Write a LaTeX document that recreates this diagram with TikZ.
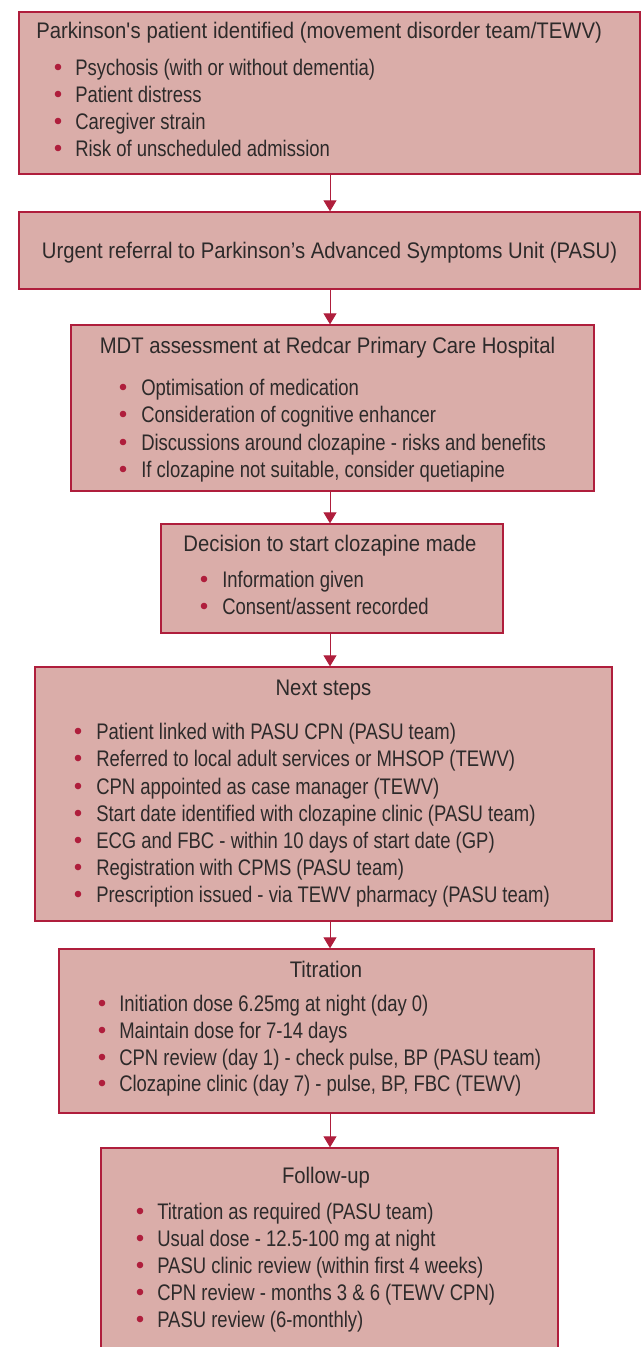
\documentclass[tikz,border=0pt]{standalone}
\usepackage{fontspec}
\usepackage{xcolor}
\usepackage{tikz}
\usetikzlibrary{arrows.meta}
\newfontfamily\headfont[FakeStretch=0.9]{Liberation Sans}
\newfontfamily\itemfont[FakeStretch=0.82]{Liberation Sans}
\definecolor{boxfill}{RGB}{218,173,169}
\definecolor{boxline}{RGB}{175,30,60}
\definecolor{txt}{RGB}{45,42,42}

\begin{document}
\begin{tikzpicture}[x=0.75pt,y=0.75pt,yscale=-1,xscale=1,
  box/.style={rectangle,draw=boxline,fill=boxfill,line width=1pt,inner sep=0pt},
  ttl/.style={anchor=base,inner sep=0pt,text=txt,font=\headfont\fontsize{16.9pt}{19pt}\selectfont},
  itm/.style={anchor=base west,inner sep=0pt,text=txt,font=\itemfont\fontsize{16.9pt}{19pt}\selectfont},
  dot/.style={fill=boxline},
  arr/.style={draw=boxline,line width=0.75pt,-{Triangle[length=8.25pt,width=9.75pt]}}]
\useasboundingbox (0,0) rectangle (642,1347);
\clip (0,0) rectangle (642,1347);
\coordinate (ax) at (330,0);

%Boxes
\node[box,minimum width=465.75pt,minimum height=121.5pt] (b1) at (329.5,93) {};
\node[box,minimum width=465.75pt,minimum height=57.75pt] (b2) at (329.5,250.5) {};
\node[box,minimum width=392.25pt,minimum height=124.5pt] (b3) at (332.5,408) {};
\node[box,minimum width=256.5pt,minimum height=81.75pt] (b4) at (332,578.5) {};
\node[box,minimum width=432.75pt,minimum height=190.5pt] (b5) at (323.5,794) {};
\node[box,minimum width=401.25pt,minimum height=123pt] (b6) at (326.5,1031) {};
\node[box,minimum width=342.75pt,minimum height=159pt] (b7) at (329.5,1254) {};

%Arrows
\draw[arr] (b1.south -| ax) -- (b2.north -| ax);
\draw[arr] (b2.south -| ax) -- (b3.north -| ax);
\draw[arr] (b3.south -| ax) -- (b4.north -| ax);
\draw[arr] (b4.south -| ax) -- (b5.north -| ax);
\draw[arr] (b5.south -| ax) -- (b6.north -| ax);
\draw[arr] (b6.south -| ax) -- (b7.north -| ax);

% Text Node
\node[ttl,anchor=base west] (t1) at (36,38) {Parkinson\textquotesingle s patient identified (movement disorder team/TEWV)};
\fill[dot] (58,67) circle (3.3); \node[itm] (t1a) at (75,75) {Psychosis (with or without dementia)};
\fill[dot] (58,94) circle (3.3); \node[itm] (t1b) at (75,102) {Patient distress};
\fill[dot] (58,121) circle (3.3); \node[itm] (t1c) at (75,129) {Caregiver strain};
\fill[dot] (58,148) circle (3.3); \node[itm] (t1d) at (75,156) {Risk of unscheduled admission};
% Text Node
\node[ttl] (t2) at (329.5,258.5) {Urgent referral to Parkinson’s Advanced Symptoms Unit (PASU)};
% Text Node
\node[ttl] (t3) at (327.5,353) {MDT assessment at Redcar Primary Care Hospital};
\fill[dot] (123,387) circle (3.3); \node[itm] (t3a) at (141,395) {Optimisation of medication};
\fill[dot] (123,414) circle (3.3); \node[itm] (t3b) at (141,422) {Consideration of cognitive enhancer};
\fill[dot] (123,442) circle (3.3); \node[itm] (t3c) at (141,450) {Discussions around clozapine - risks and benefits};
\fill[dot] (123,469) circle (3.3); \node[itm] (t3d) at (141,477) {If clozapine not suitable, consider quetiapine};
% Text Node
\node[ttl] (t4) at (330,551) {Decision to start clozapine made};
\fill[dot] (204,579) circle (3.3); \node[itm] (t4a) at (222,587) {Information given};
\fill[dot] (204,606) circle (3.3); \node[itm] (t4b) at (222,614) {Consent/assent recorded};
% Text Node
\node[ttl] (t5) at (323.5,695) {Next steps};
\fill[dot] (78,731) circle (3.3); \node[itm] (t5a) at (96,739) {Patient linked with PASU CPN (PASU team)};
\fill[dot] (78,758) circle (3.3); \node[itm] (t5b) at (96,766) {Referred to local adult services or MHSOP (TEWV)};
\fill[dot] (78,786) circle (3.3); \node[itm] (t5c) at (96,794) {CPN appointed as case manager (TEWV)};
\fill[dot] (78,813) circle (3.3); \node[itm] (t5d) at (96,821) {Start date identified with clozapine clinic (PASU team)};
\fill[dot] (78,840) circle (3.3); \node[itm] (t5e) at (96,848) {ECG and FBC - within 10 days of start date (GP)};
\fill[dot] (78,867) circle (3.3); \node[itm] (t5f) at (96,875) {Registration with CPMS (PASU team)};
\fill[dot] (78,894) circle (3.3); \node[itm] (t5g) at (96,902) {Prescription issued - via TEWV pharmacy (PASU team)};
% Text Node
\node[ttl] (t6) at (326,977) {Titration};
\fill[dot] (102,1003) circle (3.3); \node[itm] (t6a) at (119,1011) {Initiation dose 6.25mg at night (day 0)};
\fill[dot] (102,1030) circle (3.3); \node[itm] (t6b) at (119,1038) {Maintain dose for 7-14 days};
\fill[dot] (102,1057) circle (3.3); \node[itm] (t6c) at (119,1065) {CPN review (day 1) - check pulse, BP (PASU team)};
\fill[dot] (102,1083) circle (3.3); \node[itm] (t6d) at (119,1091) {Clozapine clinic (day 7) - pulse, BP, FBC (TEWV)};
% Text Node
\node[ttl] (t7) at (326,1183) {Follow-up};
\fill[dot] (140,1211) circle (3.3); \node[itm] (t7a) at (157,1219) {Titration as required (PASU team)};
\fill[dot] (140,1238) circle (3.3); \node[itm] (t7b) at (157,1246) {Usual dose - 12.5-100 mg at night};
\fill[dot] (140,1265) circle (3.3); \node[itm] (t7c) at (157,1273) {PASU clinic review (within first 4 weeks)};
\fill[dot] (140,1292) circle (3.3); \node[itm] (t7d) at (157,1300) {CPN review - months 3 \& 6 (TEWV CPN)};
\fill[dot] (140,1319) circle (3.3); \node[itm] (t7e) at (157,1327) {PASU review (6-monthly)};
\end{tikzpicture}
\end{document}
